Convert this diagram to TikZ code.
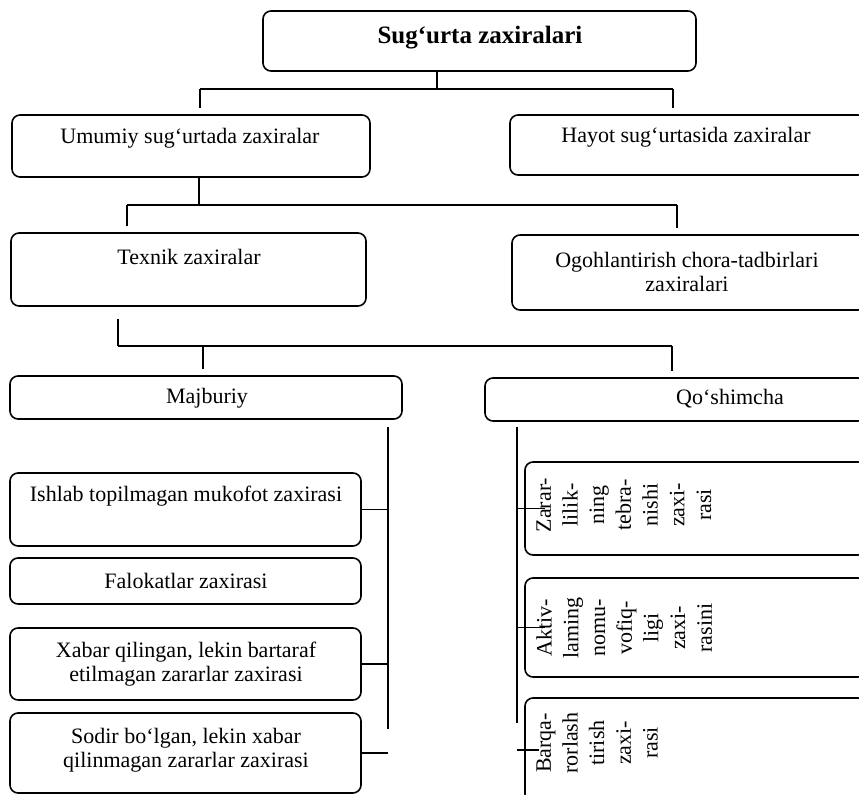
\documentclass[tikz,border=0pt]{standalone}
\usepackage{fontspec}
\setmainfont{Liberation Serif}
\usetikzlibrary{fit}

\tikzset{
  box/.style={draw,line width=0.8pt,rounded corners=4pt,inner sep=0pt},
  link/.style={draw,line width=0.7pt},
  txt/.style={font=\fontsize{11}{12}\selectfont,align=center,inner sep=0pt},
  vtxt/.style={txt,rotate=90,anchor=north,font=\fontsize{11}{13.35}\selectfont},
}

\begin{document}
\begin{tikzpicture}[x=0.5pt,y=-0.5pt]
  \clip (0,0) rectangle (859,795);
  %top
  \node[box,fit={(263,11)(696,71)}] (sz) {};
  \node[txt,font=\fontsize{12.5}{14}\selectfont\bfseries] (sz-t) at (480,38) {Sug‘urta zaxiralari};
  %second row
  \node[box,fit={(12,115)(370,177)}] (ums) {};
  \node[txt] (ums-t) at (190,138) {Umumiy sug‘urtada zaxiralar};
  \node[box,fit={(510,115)(866,175)}] (hay) {};
  \node[txt] (hay-t) at (686,137) {Hayot sug‘urtasida zaxiralar};
  \coordinate (b1) at (437,89);
  \coordinate (b1l) at (200,89);
  \coordinate (b1r) at (673,89);
  \draw[link] (sz.south -| b1) -- (b1);
  \draw[link] (b1l) -- (b1r);
  \draw[link,shorten >=3pt] (b1l) -- (b1l |- ums.north);
  \draw[link,shorten >=3pt] (b1r) -- (b1r |- hay.north);
  %third row
  \node[box,fit={(11,233)(366,306)}] (tex) {};
  \node[txt] (tex-t) at (189,257) {Texnik zaxiralar};
  \node[box,fit={(512,235)(866,310)}] (ogo) {};
  \node[txt] (ogo-t) at (687,272) {Ogohlantirish chora-tadbirlari\\zaxiralari};
  \coordinate (b2) at (199,205);
  \coordinate (b2l) at (127,205);
  \coordinate (b2r) at (677,205);
  \draw[link] (ums.south -| b2) -- (b2);
  \draw[link] (b2l) -- (b2r);
  \draw[link,shorten >=3pt] (b2l) -- (b2l |- tex.north);
  \draw[link,shorten >=3pt] (b2r) -- (b2r |- ogo.north);
  %fourth row
  \node[box,fit={(10,376)(402,419)}] (maj) {};
  \node[txt] (maj-t) at (207,398) {Majburiy};
  \node[box,fit={(485,378)(866,421)}] (qos) {};
  \node[txt] (qos-t) at (730,399) {Qo‘shimcha};
  \coordinate (b3) at (118,346);
  \coordinate (b3l) at (203,346);
  \coordinate (b3r) at (672,346);
  \draw[link,shorten <=6pt] (tex.south -| b3) -- (b3);
  \draw[link] (b3) -- (b3r);
  \draw[link,shorten >=3pt] (b3l) -- (b3l |- maj.north);
  \draw[link,shorten >=3pt] (b3r) -- (b3r |- qos.north);
  %majburiy
  \coordinate (mv) at (388,427);
  \coordinate (mv-e) at (388,729);
  \draw[link] (mv) -- (mv-e);
  \node[box,fit={(10,473)(361,546)}] (m1) {};
  \node[txt] (m1-t) at (186,496) {Ishlab topilmagan mukofot zaxirasi};
  \node[box,fit={(10,558)(361,604)}] (m2) {};
  \node[txt] (m2-t) at (186,581) {Falokatlar zaxirasi};
  \node[box,fit={(10,628)(361,700)}] (m3) {};
  \node[txt] (m3-t) at (186,664) {Xabar qilingan, lekin bartaraf\\etilmagan zararlar zaxirasi};
  \node[box,fit={(10,713)(361,793)}] (m4) {};
  \node[txt] (m4-t) at (186,750) {Sodir bo‘lgan, lekin xabar\\qilinmagan zararlar zaxirasi};
  \draw[link] (m1.east) -- (m1.east -| mv);
  \draw[link] (m3.east) -- (m3.east -| mv);
  \draw[link] (m4.east) -- (m4.east -| mv);
  %qo'shimcha
  \coordinate (qv) at (517,427);
  \coordinate (qv-e) at (517,723);
  \draw[link] (qv) -- (qv-e);
  \node[box,fit={(525,462)(866,555)}] (q1) {};
  \node[vtxt] (q1-t) at (536,505) {Zarar-\\lilik-\\ning\\tebra-\\nishi\\zaxi-\\rasi};
  \node[box,fit={(525,578)(866,677)}] (q2) {};
  \node[vtxt] (q2-t) at (536,628) {Aktiv-\\laming\\nomu-\\vofiq-\\ligi\\zaxi-\\rasini};
  \node[box,fit={(525,698)(866,802)}] (q3) {};
  \node[vtxt] (q3-t) at (536,743) {Barqa-\\rorlash\\tirish\\zaxi-\\rasi};
  \draw[link] (qv |- q1.west) -- ++(28,0);
  \draw[link] (qv |- q2.west) -- ++(28,0);
  \draw[link] (qv |- q3.west) -- ++(22,0);
\end{tikzpicture}
\end{document}
